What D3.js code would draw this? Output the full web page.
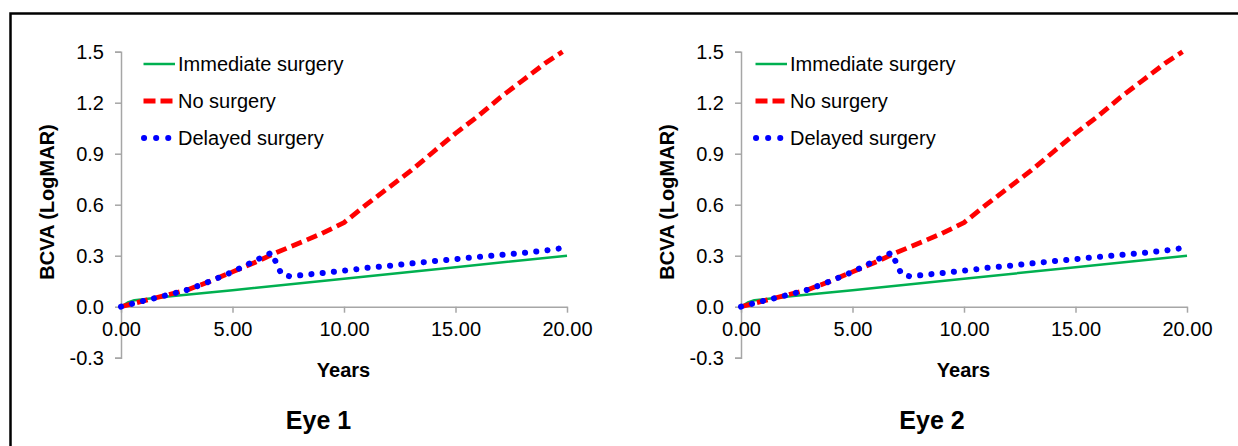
<!DOCTYPE html>
<html><head><meta charset="utf-8">
<script src="https://cdn.jsdelivr.net/npm/d3@7"></script>
<style>
html,body{margin:0;padding:0;background:#fff;}
text{font-family:Arial,"Liberation Sans",sans-serif;fill:#000;}
</style></head>
<body><svg id="c" width="1238" height="446"></svg>
<script>
// ---- data ----
const xTicks = [0, 5, 10, 15, 20];
const yTicks = [-0.3, 0, 0.3, 0.6, 0.9, 1.2, 1.5];
const seriesNames = ["Immediate surgery", "No surgery", "Delayed surgery"];
const panelTitles = ["Eye 1", "Eye 2"];

const immYears = [0, 0.3, 0.6, 2, 5, 10, 15, 20];
const immVals  = [0, 0.025, 0.038, 0.058, 0.097, 0.165, 0.232, 0.3];

const noYears = [0, 1, 2, 3, 4, 5, 6, 7, 8, 9, 10, 11, 12, 13, 14, 15, 16, 17, 18, 19, 19.8];
const noVals  = [0, 0.034, 0.067, 0.1, 0.15, 0.205, 0.26, 0.32, 0.375, 0.43, 0.495, 0.6, 0.7, 0.8, 0.91, 1.02, 1.12, 1.23, 1.33, 1.43, 1.5];

const delYears = [0, 1, 2, 3, 4, 5, 6, 6.75, 7.2, 7.6, 8, 9, 10, 11, 12, 13, 14, 15, 16, 17, 18, 19, 19.8];
const delVals  = [0, 0.034, 0.066, 0.1, 0.15, 0.205, 0.27, 0.318, 0.19, 0.178, 0.184, 0.198, 0.212, 0.228, 0.24, 0.254, 0.268, 0.28, 0.293, 0.304, 0.316, 0.33, 0.345];

// Eye 2 (visually same curves)
const imm2Years = immYears, imm2Vals = immVals;
const no2Years = noYears, no2Vals = noVals;
const del2Years = delYears, del2Vals = delVals;

const panels = [
  {ox: 0, lx: 0, tx: 318.5, title: panelTitles[0], series: [[immYears, immVals], [noYears, noVals], [delYears, delVals]]},
  {ox: 620, lx: 612, tx: 932, title: panelTitles[1], series: [[imm2Years, imm2Vals], [no2Years, no2Vals], [del2Years, del2Vals]]}
];

const styles = [
  {color: "#00B050", width: 2.5, dash: null, cap: "butt"},
  {color: "#FF0000", width: 4.8, dash: "11,5.5", cap: "butt"},
  {color: "#0000FF", width: 6, dash: "0.1,11.2", cap: "round"}
];

const fmtY = d => d3.format(".1f")(d).replace("\u2212", "-");
const fmtX = d => d3.format(".2f")(d);

const svg = d3.select("#c");
// outer border (only top and left visible)
svg.append("rect").attr("x", 10.5).attr("y", 13.5).attr("width", 1400).attr("height", 600)
  .attr("fill", "none").attr("stroke", "#000").attr("stroke-width", 2.5);

panels.forEach(p => {
  const g = svg.append("g").attr("transform", `translate(${p.ox},0)`);
  const x = d3.scaleLinear().domain([0, 20]).range([121, 567]);
  const y = d3.scaleLinear().domain([-0.3, 1.5]).range([357.7, 51.7]);

  // y axis
  const ya = g.append("g").attr("transform", `translate(${x(0)},0)`)
    .call(d3.axisLeft(y).tickValues(yTicks).tickFormat(fmtY).tickSize(6).tickPadding(11));
  ya.select(".domain").attr("stroke", "#A6A6A6").attr("stroke-width", 1.5);
  ya.selectAll(".tick line").attr("stroke", "#A6A6A6").attr("stroke-width", 1.5);
  ya.selectAll(".tick text").attr("font-size", 20).attr("font-family", "Arial, 'Liberation Sans', sans-serif").attr("fill", "#000");

  // x axis at y=0
  const xa = g.append("g").attr("transform", `translate(0,${y(0)})`)
    .call(d3.axisBottom(x).tickValues(xTicks).tickFormat(fmtX).tickSize(6).tickPadding(9).tickSizeOuter(0));
  xa.select(".domain").attr("stroke", "#A6A6A6").attr("stroke-width", 1.5);
  xa.selectAll(".tick line").attr("stroke", "#A6A6A6").attr("stroke-width", 1.5);
  xa.selectAll(".tick text").attr("font-size", 20).attr("font-family", "Arial, 'Liberation Sans', sans-serif").attr("fill", "#000");

  // series
  p.series.forEach((s, i) => {
    const pts = s[0].map((yr, k) => [yr, s[1][k]]);
    const st = styles[i];
    g.append("path").datum(pts)
      .attr("d", d3.line().x(d => x(d[0])).y(d => y(d[1])))
      .attr("fill", "none").attr("stroke", st.color).attr("stroke-width", st.width)
      .attr("stroke-dasharray", st.dash).attr("stroke-linecap", st.cap).attr("stroke-linejoin", "round");
  });

  // axis titles
  g.append("text").attr("x", 343.5).attr("y", 377).attr("text-anchor", "middle")
    .attr("font-size", 20).attr("font-weight", "bold").text("Years");
  g.append("text").attr("transform", "translate(54,202) rotate(-90)").attr("text-anchor", "middle")
    .attr("font-size", 20).attr("font-weight", "bold").text("BCVA (LogMAR)");

  // panel title
  svg.append("text").attr("x", p.tx).attr("y", 429).attr("text-anchor", "middle")
    .attr("font-size", 25).attr("font-weight", "bold").text(p.title);

  // legend
  const lg = svg.append("g").attr("transform", `translate(${p.lx},0)`);
  seriesNames.forEach((name, i) => {
    const ly = 64 + i * 37;
    const st = styles[i];
    lg.append("line").attr("x1", i === 2 ? 144 : 143.5).attr("x2", i === 2 ? 169 : 175).attr("y1", ly).attr("y2", ly)
      .attr("stroke", st.color).attr("stroke-width", st.width)
      .attr("stroke-dasharray", i === 1 ? "12,5" : (i === 2 ? "0.1,12" : null))
      .attr("stroke-linecap", st.cap);
    lg.append("text").attr("x", 178).attr("y", ly).attr("dy", "0.35em")
      .attr("font-size", 20).text(name);
  });
});
</script></body></html>
